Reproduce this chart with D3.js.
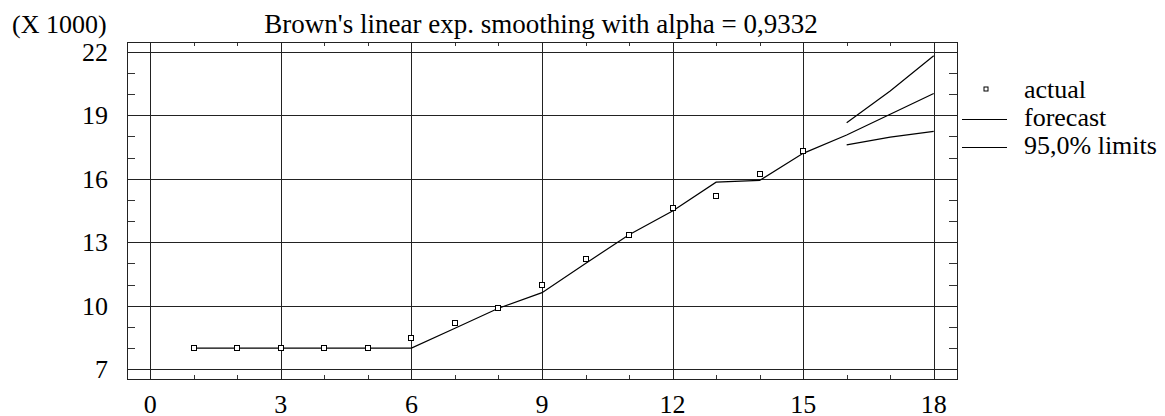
<!DOCTYPE html>
<html>
<head>
<meta charset="utf-8">
<script src="https://cdn.jsdelivr.net/npm/d3@7/dist/d3.min.js"></script>
</head>
<body style="margin:0">
<svg id="chart" width="1165" height="416"></svg>
<script>
// data (values in thousands)
const periods = d3.range(1, 19);
const actual = [8.0, 8.0, 8.0, 8.0, 8.0, 8.48, 9.2, 9.88, 11.0, 12.19, 13.36, 14.6, 15.2, 16.21, 17.31];
const forecast = [8.0, 8.0, 8.0, 8.0, 8.0, 8.0, 8.94, 9.88, 10.62, 12.0, 13.35, 14.48, 15.84, 15.92, 17.2, 18.07, 19.05, 20.03];
const limitPeriods = [16, 17, 18];
const upper = [18.65, 20.15, 21.81];
const lower = [17.6, 17.97, 18.24];
const xTicks = [0, 3, 6, 9, 12, 15, 18];
const yTicks = [7, 10, 13, 16, 19, 22];
const legendLabels = ['actual', 'forecast', '95,0% limits'];

const svg = d3.select('#chart');

const box = { left: 127, right: 957, top: 42, bottom: 379 };

const x = d3.scaleLinear().domain([-0.535, 18.535]).range([box.left, box.right]);
const y = d3.scaleLinear().domain([6.54, 22.46]).range([box.bottom, box.top]);

// texts first
function label(sel, size) {
    return sel.attr('font-family', 'Liberation Serif').attr('font-size', size);
}

label(svg.append('text'), 26).attr('x', 12).attr('y', 33).text('(X 1000)');
label(svg.append('text'), 27).attr('x', 541).attr('y', 33).attr('text-anchor', 'middle')
    .text("Brown's linear exp. smoothing with alpha = 0,9332");

label(svg.selectAll('.xlab').data(xTicks).enter().append('text'), 26)
    .attr('x', d => x(d)).attr('y', 413)
    .attr('text-anchor', 'middle')
    .text(d => d);

label(svg.selectAll('.ylab').data(yTicks).enter().append('text'), 26)
    .attr('x', 108).attr('y', d => y(d) + 9)
    .attr('text-anchor', 'end')
    .text(d => d);

label(svg.selectAll('.lgt').data(legendLabels).enter().append('text'), 26)
    .attr('x', 1024).attr('y', (d, i) => 98 + i * 28)
    .text(d => d);

const g = svg.append('g');

// grid
g.selectAll('.vgrid').data(xTicks).enter().append('line')
    .attr('x1', d => Math.round(x(d)) + 0.5).attr('x2', d => Math.round(x(d)) + 0.5)
    .attr('y1', box.top).attr('y2', box.bottom)
    .attr('stroke', '#222');

g.selectAll('.hgrid').data(yTicks).enter().append('line')
    .attr('y1', d => Math.round(y(d)) + 0.5).attr('y2', d => Math.round(y(d)) + 0.5)
    .attr('x1', box.left).attr('x2', box.right)
    .attr('stroke', '#222');

// minor ticks
const xMinor = d3.range(0, 19).filter(d => d % 3 !== 0);
const yMinor = d3.range(7, 23).filter(d => (d - 7) % 3 !== 0);

xMinor.forEach(d => {
    const px = Math.round(x(d)) + 0.5;
    g.append('line').attr('x1', px).attr('x2', px).attr('y1', box.bottom).attr('y2', box.bottom - 4).attr('stroke', '#333');
    g.append('line').attr('x1', px).attr('x2', px).attr('y1', box.top).attr('y2', box.top + 4).attr('stroke', '#333');
});
yMinor.forEach(d => {
    const py = Math.round(y(d)) + 0.5;
    g.append('line').attr('y1', py).attr('y2', py).attr('x1', box.left).attr('x2', box.left + 8).attr('stroke', '#333');
    g.append('line').attr('y1', py).attr('y2', py).attr('x1', box.right).attr('x2', box.right - 8).attr('stroke', '#333');
});

// frame
g.append('rect')
    .attr('x', box.left + 0.5).attr('y', box.top + 0.5)
    .attr('width', box.right - box.left).attr('height', box.bottom - box.top)
    .attr('fill', 'none').attr('stroke', '#222');

// lines
const line = d3.line().x(d => x(d[0])).y(d => y(d[1]));

svg.append('path')
    .attr('d', line(forecast.map((v, i) => [periods[i], v])))
    .attr('fill', 'none').attr('stroke', '#000').attr('stroke-width', 1.2);

[upper, lower].forEach(s => {
    svg.append('path')
        .attr('d', line(s.map((v, i) => [limitPeriods[i], v])))
        .attr('fill', 'none').attr('stroke', '#000').attr('stroke-width', 1.2);
});

// actual points
svg.selectAll('.pt').data(actual).enter().append('rect')
    .attr('x', (d, i) => Math.round(x(periods[i])) - 2.5)
    .attr('y', d => Math.round(y(d)) - 2.5)
    .attr('width', 5).attr('height', 5)
    .attr('fill', '#fff').attr('stroke', '#000').attr('stroke-width', 1);

// legend marks
svg.append('rect').attr('x', 984).attr('y', 87).attr('width', 4).attr('height', 4)
    .attr('fill', '#fff').attr('stroke', '#000');
svg.append('line').attr('x1', 962).attr('x2', 1007).attr('y1', 119.5).attr('y2', 119.5).attr('stroke', '#000');
svg.append('line').attr('x1', 962).attr('x2', 1007).attr('y1', 147.5).attr('y2', 147.5).attr('stroke', '#000');
</script>
</body>
</html>
